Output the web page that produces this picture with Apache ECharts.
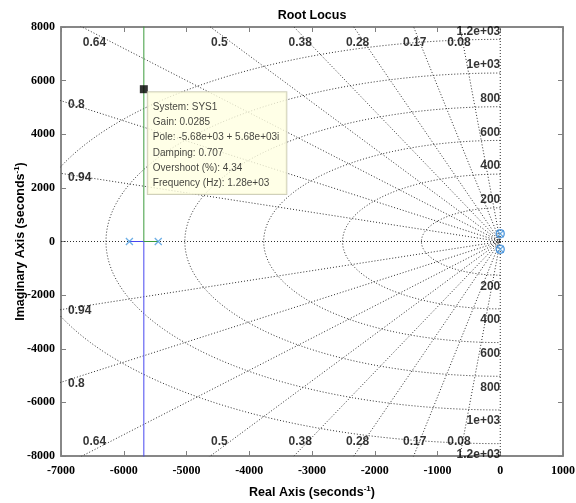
<!DOCTYPE html>
<html>
<head>
<meta charset="utf-8">
<script src="https://cdn.jsdelivr.net/npm/echarts@6/dist/echarts.min.js"></script>
<style>
  html, body { margin: 0; padding: 0; background: #ffffff; }
  #chart { width: 576px; height: 503px; }
</style>
</head>
<body>
<div id="chart"></div>
<script>
// ---- axis ranges ----
const xMin = -7000, xMax = 1000, xStep = 1000;
const yMin = -8000, yMax = 8000, yStep = 2000;

// ---- open-loop poles and zeros ----
const polesLeft = [[-5910, 0], [-5450, 0]];
const polesNearOrigin = [[0, 290], [0, -290]];
const zerosNearOrigin = [[0, 290], [0, -290]];

// ---- root locus branches (breakaway at -5680) ----
const branchDown = [[-5910, 0], [-5680, 0], [-5680, -9000]];
const branchUp = [[-5450, 0], [-5680, 0], [-5680, 9000]];

// ---- selected closed-loop pole and its data tip ----
const selectedPole = [-5680, 5680];
const tipLines = [
  'System: SYS1',
  'Gain: 0.0285',
  'Pole: -5.68e+03 + 5.68e+03i',
  'Damping: 0.707',
  'Overshoot (%): 4.34',
  'Frequency (Hz): 1.28e+03'
];

// ---- s-plane grid: damping rays and natural-frequency circles (Hz) ----
const dampingValues = [0.08, 0.17, 0.28, 0.38, 0.5, 0.64, 0.8, 0.94];
const dampingLabels = ['0.08', '0.17', '0.28', '0.38', '0.5', '0.64', '0.8', '0.94'];
const freqHz = [200, 400, 600, 800, 1000, 1200];
const freqLabels = ['200', '400', '600', '800', '1e+03', '1.2e+03'];

const gridDot = { color: '#2e2e2e', width: 1, type: [1, 2] };
const boldSans = 'Liberation Sans, Arial, sans-serif';
const boldSerif = 'Liberation Serif, Times New Roman, serif';

function lineSeries(data, lineStyle, z) {
  return {
    type: 'line', data: data, showSymbol: false, symbol: 'none',
    lineStyle: lineStyle, clip: true, silent: true, z: z || 1,
    animation: false
  };
}

const series = [];

// natural frequency circles (left half plane)
freqHz.forEach(function (f) {
  const r = 2 * Math.PI * f;
  const pts = [];
  for (let a = 90; a <= 270; a += 1) {
    const t = a * Math.PI / 180;
    pts.push([r * Math.cos(t), r * Math.sin(t)]);
  }
  series.push(lineSeries(pts, gridDot));
});

// constant damping rays
dampingValues.forEach(function (z) {
  const R = 30000;
  const s = Math.sqrt(1 - z * z);
  series.push(lineSeries([[-z * R, s * R], [0, 0], [-z * R, -s * R]], gridDot));
});

// real and imaginary axes
series.push(lineSeries([[xMin, 0], [xMax, 0]], gridDot));
series.push(lineSeries([[0, yMin], [0, yMax]], gridDot));

// damping labels at the plot edges
function textItem(value, text, pos, align, vAlign) {
  return { value: value, label: { formatter: text, position: pos, align: align, verticalAlign: vAlign } };
}
const dampLabelData = [];
dampingValues.forEach(function (z, i) {
  const tanT = Math.sqrt(1 - z * z) / z;
  const xTop = -yMax / tanT;
  if (xTop >= xMin) {
    const dx = 24 * z - 3;
    dampLabelData.push(textItem([xTop, yMax], dampingLabels[i], [dx, 16], 'center', 'middle'));
    dampLabelData.push(textItem([xTop, yMin], dampingLabels[i], [dx, -14], 'center', 'middle'));
  } else {
    const yLeft = -xMin * tanT;
    dampLabelData.push(textItem([xMin, yLeft], dampingLabels[i], [7, 4], 'left', 'middle'));
    dampLabelData.push(textItem([xMin, -yLeft], dampingLabels[i], [7, 1], 'left', 'middle'));
  }
});
series.push({
  type: 'scatter', data: dampLabelData, symbolSize: 0, silent: true, z: 3,
  clip: false, animation: false,
  label: { show: true, color: '#000', fontFamily: boldSans, fontWeight: 'bold', fontSize: 12 },
  labelLayout: { hideOverlap: false }
});

// frequency labels along the imaginary axis
const freqLabelData = [];
freqHz.forEach(function (f, i) {
  const r = 2 * Math.PI * f;
  freqLabelData.push(textItem([0, r], freqLabels[i], [0, -8], 'right', 'middle'));
  freqLabelData.push(textItem([0, -r], freqLabels[i], [0, 11], 'right', 'middle'));
});
series.push({
  type: 'scatter', data: freqLabelData, symbolSize: 0, silent: true, z: 3,
  clip: false, animation: false,
  label: { show: true, color: '#000', fontFamily: boldSans, fontWeight: 'bold', fontSize: 12 },
  labelLayout: { hideOverlap: false }
});

// locus branches
series.push(lineSeries(branchDown, { color: '#4646f0', width: 1 }, 5));
series.push(lineSeries(branchUp, { color: '#3c9c3c', width: 1 }, 5));

// pole markers (x) and zero markers (o)
const xPath = 'path://M0,0L10,10M10,0L0,10';
series.push({
  type: 'scatter', data: polesLeft.concat(polesNearOrigin), symbol: xPath, symbolSize: 7,
  itemStyle: { color: 'rgba(0,0,0,0)', borderColor: '#4a9be0', borderWidth: 1.3 },
  silent: true, z: 6, animation: false, clip: false
});
series.push({
  type: 'scatter', data: zerosNearOrigin, symbol: 'circle', symbolSize: 8,
  itemStyle: { color: 'rgba(0,0,0,0)', borderColor: '#3a8ad8', borderWidth: 1.5 },
  silent: true, z: 6, animation: false, clip: false
});

// selected pole with data tip
series.push({
  type: 'scatter', data: [selectedPole], symbol: 'rect', symbolSize: 8,
  itemStyle: { color: '#000' }, silent: true, z: 10, animation: false, clip: false,
  label: {
    show: true, position: [8, 7], formatter: tipLines.join('\n'),
    fontFamily: 'Liberation Sans, Arial, sans-serif', fontSize: 10, lineHeight: 15.3,
    color: '#111', backgroundColor: '#ffffe1', borderColor: '#c4c4aa', borderWidth: 1,
    padding: [7, 7, 3, 5], align: 'left', verticalAlign: 'top'
  }
});

function axisCommon(extra) {
  return Object.assign({
    type: 'value',
    axisLine: { show: true, onZero: false, lineStyle: { color: '#808080', width: 1.5 } },
    axisTick: { show: true, inside: true, length: 5, lineStyle: { color: '#808080', width: 1 } },
    splitLine: { show: false },
    axisLabel: {
      color: '#000', fontFamily: boldSerif, fontWeight: 'bold', fontSize: 12,
      showMinLabel: true, showMaxLabel: true,
      formatter: function (v) { return String(v); }
    }
  }, extra);
}

const nameRich = {
  n: { fontFamily: boldSans, fontWeight: 'bold', fontSize: 12.5, color: '#000', lineHeight: 16 },
  s: { fontFamily: boldSans, fontWeight: 'bold', fontSize: 8, color: '#000', verticalAlign: 'top', lineHeight: 16 }
};

const option = {
  animation: false,
  backgroundColor: '#ffffff',
  title: {
    text: 'Root Locus', left: 307, top: 4, textAlign: 'center',
    textStyle: { fontFamily: boldSans, fontWeight: 'bold', fontSize: 12.5, color: '#000' }
  },
  grid: { left: 61, right: 13, top: 27, bottom: 47, containLabel: false, outerBoundsMode: 'none',
          show: true, borderColor: '#808080', borderWidth: 1.5 },
  xAxis: [
    axisCommon({
      min: xMin, max: xMax, interval: xStep, position: 'bottom',
      name: '{n|Real Axis (seconds}{s|-1}{n|)}', nameLocation: 'middle', nameGap: 29,
      nameMoveOverlap: false,
      nameTextStyle: { rich: nameRich },
      axisLabel: {
        color: '#000', fontFamily: boldSerif, fontWeight: 'bold', fontSize: 12, margin: 9,
        showMinLabel: true, showMaxLabel: true,
        formatter: function (v) { return String(v); }
      }
    }),
    axisCommon({ min: xMin, max: xMax, interval: xStep, position: 'top', axisLabel: { show: false } })
  ],
  yAxis: [
    axisCommon({
      min: yMin, max: yMax, interval: yStep, position: 'left',
      name: '{n|Imaginary Axis (seconds}{s|-1}{n|)}', nameLocation: 'middle', nameGap: 32, nameRotate: 90,
      nameMoveOverlap: false,
      nameTextStyle: { rich: nameRich },
      axisLabel: {
        color: '#000', fontFamily: boldSerif, fontWeight: 'bold', fontSize: 12, margin: 6,
        showMinLabel: true, showMaxLabel: true,
        formatter: function (v) { return String(v); }
      }
    }),
    axisCommon({ min: yMin, max: yMax, interval: yStep, position: 'right', axisLabel: { show: false } })
  ],
  series: series
};

const chart = echarts.init(document.getElementById('chart'), null, { renderer: 'canvas' });
chart.setOption(option);
</script>
</body>
</html>
